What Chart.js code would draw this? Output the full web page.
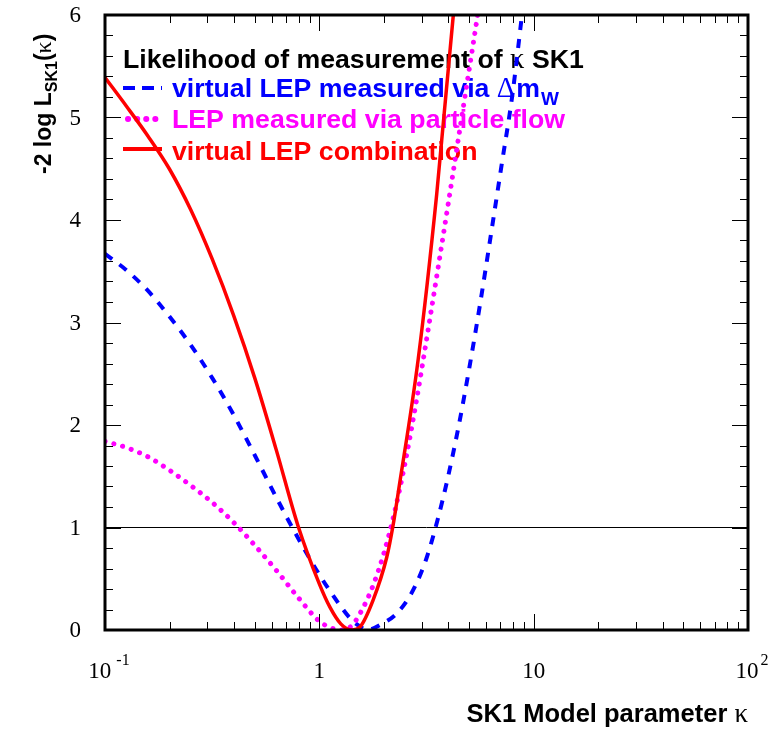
<!DOCTYPE html>
<html>
<head>
<meta charset="utf-8">
<script src="https://cdn.jsdelivr.net/npm/chart.js@4.4.1/dist/chart.umd.min.js"></script>
<style>
html,body{margin:0;padding:0;background:#fff;}
#wrap{width:776px;height:734px;position:relative;}
canvas{display:block;}
</style>
</head>
<body>
<div id="wrap"><canvas id="c" width="776" height="734"></canvas></div>
<script>
// ---- values (kappa, -2 log L) ----
// virtual LEP measured via Δm_W (blue dashed)
const kappaDm = [0.1, 0.1259, 0.1585, 0.1995, 0.2512, 0.3162, 0.3981, 0.5012, 0.631, 0.7943, 1.0, 1.259, 1.413, 1.585, 1.66, 1.995, 2.239, 2.512, 2.818, 3.162, 3.548, 3.981, 4.467, 5.012, 5.623, 6.31, 7.079, 7.943, 8.796, 9.77];
const chi2Dm  = [3.67, 3.51, 3.31, 3.06, 2.78, 2.46, 2.10, 1.70, 1.29, 0.90, 0.54, 0.23, 0.10, 0.02, 0.0, 0.07, 0.14, 0.26, 0.44, 0.70, 1.06, 1.49, 1.99, 2.56, 3.18, 3.85, 4.53, 5.21, 5.98, 6.8];
// LEP measured via particle flow (magenta dotted)
const kappaPF = [0.1, 0.1259, 0.1585, 0.1995, 0.2512, 0.3162, 0.3981, 0.5012, 0.631, 0.7943, 1.0, 1.122, 1.23, 1.413, 1.585, 1.778, 1.995, 2.239, 2.512, 2.818, 3.162, 3.548, 3.981, 4.467, 5.012, 5.495, 6.026];
const chi2PF  = [1.84, 1.78, 1.69, 1.56, 1.41, 1.245, 1.05, 0.823, 0.58, 0.32, 0.085, 0.025, 0.0, 0.04, 0.20, 0.43, 0.74, 1.14, 1.63, 2.20, 2.83, 3.48, 4.14, 4.81, 5.48, 6.02, 6.6];
// virtual LEP combination (red solid)
const kappaComb = [0.1, 0.1259, 0.1585, 0.1995, 0.2512, 0.3162, 0.3981, 0.5012, 0.631, 0.7943, 1.0, 1.122, 1.259, 1.421, 1.548, 1.78, 2.063, 2.199, 2.35, 2.896, 3.528, 4.218, 4.5];
const chi2Comb  = [5.39, 5.11, 4.82, 4.50, 4.10, 3.62, 3.07, 2.45, 1.75, 1.02, 0.45, 0.22, 0.06, 0.0, 0.03, 0.29, 0.71, 1.0, 1.38, 2.65, 4.25, 6.0, 6.7];
// reference line at -2 log L = 1
const refLineX = [0.1, 100];
const refLineY = [1, 1];

// axes
const xMin = 0.1, xMax = 100, yMin = 0, yMax = 6;
const yTickValues = [0, 1, 2, 3, 4, 5, 6];
const yTickLabels = ['0', '1', '2', '3', '4', '5', '6'];
const xDecadeValues = [0.1, 1, 10, 100];
const xTickBases = ['10', '1', '10', '10'];
const xTickExps  = ['-1', '', '', '2'];

// texts
const legendTitle = ['Likelihood of measurement of ', 'κ', ' SK1'];
const seriesNames = [
  ['virtual LEP measured via ', 'Δ', 'm', 'W'],
  ['LEP measured via particle flow'],
  ['virtual LEP combination']
];
const xTitle = ['SK1 Model parameter ', 'κ'];
const yTitle = ['-2 log L', 'SK1', '(', 'κ', ')'];

const BLUE = '#0000ff', MAGENTA = '#ff00ff', RED = '#ff0000';
const SANSB = s => `bold ${s}px "Liberation Sans", Arial, Helvetica, sans-serif`;
const SERIF = s => `${s}px "Liberation Serif", "Times New Roman", serif`;

function pts(xs, ys) { return xs.map((x, i) => ({x: x, y: ys[i]})); }

function drawRuns(ctx, x, y, runs) {
  let cx = x;
  for (const r of runs) {
    ctx.font = r.font;
    ctx.fillStyle = r.color || '#000';
    ctx.fillText(r.t, cx, y + (r.dy || 0));
    cx += ctx.measureText(r.t).width + (r.gap || 0);
  }
  return cx;
}
function runsWidth(ctx, runs) {
  let w = 0;
  for (const r of runs) { ctx.font = r.font; w += ctx.measureText(r.t).width + (r.gap || 0); }
  return w;
}

const legendPlugin = {
  id: 'legendBox',
  beforeDatasetsDraw(chart) {
    const ctx = chart.ctx;
    ctx.save();
    ctx.textBaseline = 'alphabetic';
    const F = 26.7;
    drawRuns(ctx, 123, 68, [
      {t: legendTitle[0], font: SANSB(F)},
      {t: legendTitle[1], font: SERIF(F + 2)},
      {t: legendTitle[2], font: SANSB(F)}
    ]);
    ctx.lineWidth = 4;
    ctx.strokeStyle = BLUE;
    ctx.setLineDash([12, 7]);
    ctx.beginPath(); ctx.moveTo(123, 88); ctx.lineTo(162, 88); ctx.stroke();
    drawRuns(ctx, 172, 97, [
      {t: seriesNames[0][0], font: SANSB(F), color: BLUE},
      {t: seriesNames[0][1], font: SERIF(F + 2), color: BLUE, gap: 1},
      {t: seriesNames[0][2], font: SANSB(F), color: BLUE, gap: 1},
      {t: seriesNames[0][3], font: SANSB(19), color: BLUE, dy: 8}
    ]);
    ctx.strokeStyle = MAGENTA;
    ctx.lineWidth = 6;
    ctx.lineCap = 'round';
    ctx.setLineDash([0.1, 9]);
    ctx.beginPath(); ctx.moveTo(128, 119); ctx.lineTo(158, 119); ctx.stroke();
    ctx.lineCap = 'butt';
    drawRuns(ctx, 172, 128, [{t: seriesNames[1][0], font: SANSB(F), color: MAGENTA}]);
    ctx.setLineDash([]);
    ctx.strokeStyle = RED;
    ctx.lineWidth = 4;
    ctx.beginPath(); ctx.moveTo(123, 149); ctx.lineTo(162, 149); ctx.stroke();
    drawRuns(ctx, 172, 160, [{t: seriesNames[2][0], font: SANSB(F), color: RED}]);
    ctx.restore();
  }
};

const framePlugin = {
  id: 'rootFrame',
  afterDatasetsDraw(chart) {
    const ctx = chart.ctx;
    const a = chart.chartArea;
    const xs = chart.scales.x, ys = chart.scales.y;
    ctx.save();
    ctx.setLineDash([]);
    ctx.strokeStyle = '#000';
    ctx.lineWidth = 1;
    ctx.beginPath();
    for (let i = 0; i <= 30; i++) {
      const v = yMin + i * 0.2;
      const py = Math.round(ys.getPixelForValue(v)) + 0.5;
      const len = (i % 5 === 0) ? 16 : 8;
      ctx.moveTo(a.left, py); ctx.lineTo(a.left + len, py);
      ctx.moveTo(a.right, py); ctx.lineTo(a.right - len, py);
    }
    for (let d = 0; d < xDecadeValues.length; d++) {
      const dec = xDecadeValues[d];
      for (let k = 1; k <= 9; k++) {
        const v = dec * k;
        if (v > xMax * 1.0001) break;
        const px = Math.round(xs.getPixelForValue(v)) + 0.5;
        const len = (k === 1) ? 16 : 8;
        ctx.moveTo(px, a.bottom); ctx.lineTo(px, a.bottom - len);
        ctx.moveTo(px, a.top); ctx.lineTo(px, a.top + len);
      }
    }
    ctx.stroke();
    ctx.lineWidth = 3;
    ctx.strokeRect(a.left, a.top, a.right - a.left, a.bottom - a.top);
    ctx.restore();
  },
  afterDraw(chart) {
    const ctx = chart.ctx;
    const a = chart.chartArea;
    const xs = chart.scales.x, ys = chart.scales.y;
    ctx.save();
    ctx.fillStyle = '#000';
    ctx.font = SERIF(23);
    ctx.textAlign = 'right';
    ctx.textBaseline = 'middle';
    yTickValues.forEach((v, i) => {
      ctx.fillText(yTickLabels[i], 81, ys.getPixelForValue(v) + 1);
    });
    ctx.textAlign = 'left';
    ctx.textBaseline = 'alphabetic';
    xDecadeValues.forEach((v, i) => {
      const px = xs.getPixelForValue(v);
      const runs = [{t: xTickBases[i], font: SERIF(23)}];
      if (xTickExps[i]) {
        runs[0].gap = (xTickExps[i].length > 1 ? 5 : 2);
        runs.push({t: xTickExps[i], font: SERIF(16), dy: -13});
      }
      const w = runsWidth(ctx, runs);
      const shift = xTickExps[i] ? 4 : 0;
      drawRuns(ctx, px - w / 2 + shift, 678, runs);
    });
    const xr = [{t: xTitle[0], font: SANSB(25.5)}, {t: xTitle[1], font: SERIF(27)}];
    const xw = runsWidth(ctx, xr);
    drawRuns(ctx, a.right - xw, 722, xr);
    ctx.translate(51, 174);
    ctx.rotate(-Math.PI / 2);
    drawRuns(ctx, 0, 0, [
      {t: yTitle[0], font: SANSB(23)},
      {t: yTitle[1], font: SANSB(16), dy: 6},
      {t: yTitle[2], font: SANSB(23)},
      {t: yTitle[3], font: SERIF(24)},
      {t: yTitle[4], font: SANSB(23)}
    ]);
    ctx.restore();
  }
};

const common = {pointRadius: 0, fill: false, cubicInterpolationMode: 'monotone'};

new Chart(document.getElementById('c'), {
  type: 'line',
  data: {
    datasets: [
      Object.assign({}, common, {label: 'virtual LEP combination', data: pts(kappaComb, chi2Comb),
        borderColor: RED, borderWidth: 3.5, order: 0}),
      Object.assign({}, common, {label: 'LEP measured via particle flow', data: pts(kappaPF, chi2PF),
        borderColor: MAGENTA, borderWidth: 5, borderDash: [0.1, 9], borderCapStyle: 'round', order: 1}),
      Object.assign({}, common, {label: 'virtual LEP measured via Δm_W', data: pts(kappaDm, chi2Dm),
        borderColor: BLUE, borderWidth: 4, borderDash: [9, 9], order: 2}),
      Object.assign({}, common, {label: 'reference', data: pts(refLineX, refLineY),
        borderColor: '#000', borderWidth: 1, cubicInterpolationMode: 'default', tension: 0, order: 3})
    ]
  },
  options: {
    responsive: false,
    animation: false,
    devicePixelRatio: 1,
    events: [],
    layout: {padding: {left: 105, right: 28, top: 15, bottom: 104}},
    plugins: {legend: {display: false}, tooltip: {enabled: false}, title: {display: false}},
    scales: {
      x: {type: 'logarithmic', min: xMin, max: xMax, display: false},
      y: {type: 'linear', min: yMin, max: yMax, display: false}
    }
  },
  plugins: [legendPlugin, framePlugin]
});
</script>
</body>
</html>
